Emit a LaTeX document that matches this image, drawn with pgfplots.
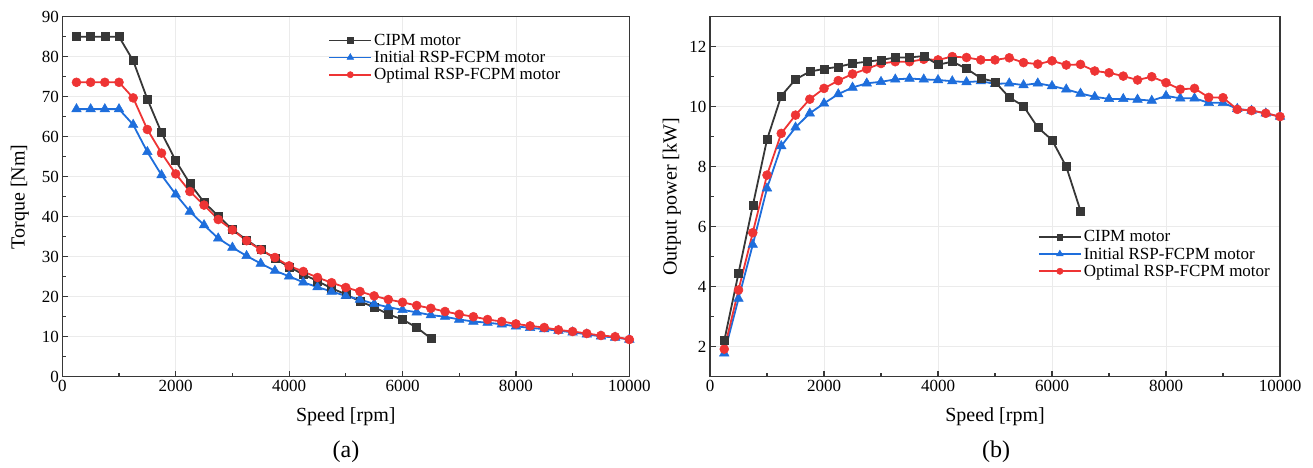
\documentclass[border=0pt]{standalone}
\usepackage{fontspec}
\setmainfont{Liberation Serif}
\usepackage{pgfplots}
\pgfplotsset{compat=1.18}
\definecolor{cblk}{RGB}{55,55,55}
\definecolor{cblu}{RGB}{30,110,220}
\definecolor{cred}{RGB}{238,52,52}
\pgfplotsset{
  mystyle/.style={
    scale only axis,
    height=360pt,
    xmin=0, xmax=10000,
    xtick={0,2000,...,10000},
    minor x tick num=1,
    minor y tick num=1,
    tick align=inside,
    xtick pos=left, ytick pos=left,
    major tick length=6pt, minor tick length=4pt,
    grid=major,
    major grid style={color=black!8, line width=0.8pt},
    axis line style={line width=1.3pt, color=cblk},
    every tick/.style={line width=1.2pt, color=cblk},
    tick label style={font=\fontsize{17}{20}\selectfont},
    label style={font=\fontsize{20}{24}\selectfont},
    /pgf/number format/assume math mode=true,
    /pgf/number format/1000 sep={},
    scaled x ticks=false,
    legend cell align=left,
    legend style={draw=none, fill=none, font=\fontsize{17}{21.5}\selectfont, anchor=north west, row sep=0pt, inner sep=0pt},
    legend image code/.code={\draw[mark repeat=2,mark phase=2,line width=1.8pt,every mark/.append style={scale=0.7}] plot coordinates {(0pt,0pt)(21pt,0pt)(42pt,0pt)};},
  },
  sblk/.style={color=cblk, line width=1.8pt, mark=square*, mark size=4pt, mark options={solid,line width=0.5pt}},
  sblu/.style={color=cblu, line width=1.8pt, mark=triangle*, mark size=5.5pt, mark options={solid,line width=0.5pt}},
  sred/.style={color=cred, line width=1.8pt, mark=*, mark size=4.5pt, mark options={solid,line width=0.5pt}},
}
\begin{document}
\begin{tikzpicture}
\useasboundingbox (0,0) rectangle (1313pt,467pt);
% ---------------- (a) torque ----------------
\begin{axis}[mystyle,
  at={(62.3pt,90.3pt)}, anchor=south west, width=567pt,
  ymin=0, ymax=90, ytick={0,10,...,90},
  xlabel={Speed [rpm]}, ylabel={Torque [Nm]},
  xlabel style={at={(axis description cs:0.5,-0.112)}, anchor=center},
  ylabel style={at={(axis description cs:-0.075,0.5)}, anchor=center},
  legend style={at={(axis description cs:0.469,0.958)}},
]
\addlegendimage{sblk}\addlegendentry{CIPM motor}
\addlegendimage{sblu}\addlegendentry{Initial RSP-FCPM motor}
\addlegendimage{sred}\addlegendentry{Optimal RSP-FCPM motor}
\addplot[sblk, forget plot] coordinates {
(250,85)(500,85)(750,85)(1000,85)(1250,79)(1500,69.4)(1750,61)(2000,54)
(2250,48.3)(2500,43.6)(2750,40.2)(3000,36.8)(3250,34.2)(3500,31.8)(3750,29.6)
(4000,27.4)(4250,25.6)(4500,23.9)(4750,22.1)(5000,20.6)(5250,18.8)(5500,17.4)
(5750,15.6)(6000,14.3)(6250,12.3)(6500,9.6)};
\addplot[sblu, forget plot] coordinates {
(250,66.9)(500,66.9)(750,66.9)(1000,66.9)(1250,63)(1500,56.2)(1750,50.4)(2000,45.6)
(2250,41.3)(2500,37.9)(2750,34.6)(3000,32.3)(3250,30.2)(3500,28.3)(3750,26.5)
(4000,25.1)(4250,23.6)(4500,22.4)(4750,21.3)(5000,20.2)(5250,19.3)(5500,18.2)
(5750,17.4)(6000,16.7)(6250,16.1)(6500,15.4)(6750,15)(7000,14.3)(7250,13.8)
(7500,13.5)(7750,13.1)(8000,12.6)(8250,12.2)(8500,11.9)(8750,11.5)(9000,11.1)
(9250,10.6)(9500,10.1)(9750,9.8)(10000,9.3)};
\addplot[sred, forget plot] coordinates {
(250,73.6)(500,73.6)(750,73.6)(1000,73.6)(1250,69.7)(1500,61.8)(1750,55.9)(2000,50.7)
(2250,46.3)(2500,42.9)(2750,39.3)(3000,36.7)(3250,34)(3500,31.7)(3750,29.8)
(4000,27.7)(4250,26.3)(4500,24.8)(4750,23.5)(5000,22.3)(5250,21.3)(5500,20.2)
(5750,19.3)(6000,18.6)(6250,17.8)(6500,17.1)(6750,16.3)(7000,15.6)(7250,15)
(7500,14.3)(7750,13.8)(8000,13.2)(8250,12.7)(8500,12.3)(8750,11.7)(9000,11.3)
(9250,10.8)(9500,10.3)(9750,10)(10000,9.3)};
\end{axis}
% ---------------- (b) power ----------------
\begin{axis}[mystyle,
  at={(710pt,90.3pt)}, anchor=south west, width=570pt,
  ymin=1, ymax=13, ytick={2,4,...,12},
  xlabel={Speed [rpm]}, ylabel={Output power [kW]},
  xlabel style={at={(axis description cs:0.5,-0.112)}, anchor=center},
  ylabel style={at={(axis description cs:-0.067,0.5)}, anchor=center},
  legend style={at={(axis description cs:0.575,0.412)}},
]
\addlegendimage{sblk}\addlegendentry{CIPM motor}
\addlegendimage{sblu}\addlegendentry{Initial RSP-FCPM motor}
\addlegendimage{sred}\addlegendentry{Optimal RSP-FCPM motor}
\addplot[sblu, forget plot] coordinates {
(250,1.78)(500,3.6)(750,5.4)(1000,7.28)(1250,8.69)(1500,9.31)(1750,9.78)(2000,10.11)
(2250,10.42)(2500,10.64)(2750,10.78)(3000,10.83)(3250,10.91)(3500,10.94)(3750,10.91)
(4000,10.89)(4250,10.85)(4500,10.82)(4750,10.85)(5000,10.76)(5250,10.78)(5500,10.72)
(5750,10.78)(6000,10.69)(6250,10.58)(6500,10.44)(6750,10.33)(7000,10.26)(7250,10.26)
(7500,10.24)(7750,10.2)(8000,10.36)(8250,10.28)(8500,10.28)(8750,10.13)(9000,10.13)
(9250,9.93)(9500,9.87)(9750,9.78)(10000,9.67)};
\addplot[sred, forget plot] coordinates {
(250,1.92)(500,3.89)(750,5.8)(1000,7.72)(1250,9.11)(1500,9.72)(1750,10.25)(2000,10.61)
(2250,10.87)(2500,11.09)(2750,11.26)(3000,11.44)(3250,11.5)(3500,11.5)(3750,11.58)
(4000,11.56)(4250,11.67)(4500,11.64)(4750,11.56)(5000,11.56)(5250,11.63)(5500,11.47)
(5750,11.42)(6000,11.53)(6250,11.39)(6500,11.41)(6750,11.19)(7000,11.13)(7250,11.02)
(7500,10.89)(7750,11.0)(8000,10.8)(8250,10.58)(8500,10.61)(8750,10.31)(9000,10.3)
(9250,9.91)(9500,9.87)(9750,9.78)(10000,9.67)};
\addplot[sblk, forget plot] coordinates {
(250,2.2)(500,4.45)(750,6.7)(1000,8.9)(1250,10.36)(1500,10.91)(1750,11.17)(2000,11.26)
(2250,11.33)(2500,11.44)(2750,11.5)(3000,11.56)(3250,11.64)(3500,11.64)(3750,11.69)
(4000,11.4)(4250,11.5)(4500,11.27)(4750,10.95)(5000,10.83)(5250,10.31)(5500,10.02)
(5750,9.31)(6000,8.89)(6250,8.0)(6500,6.53)};
\end{axis}
\node[font=\fontsize{24}{26}\selectfont] at (346pt,15pt) {(a)};
\node[font=\fontsize{24}{26}\selectfont] at (996pt,15pt) {(b)};
\end{tikzpicture}
\end{document}
